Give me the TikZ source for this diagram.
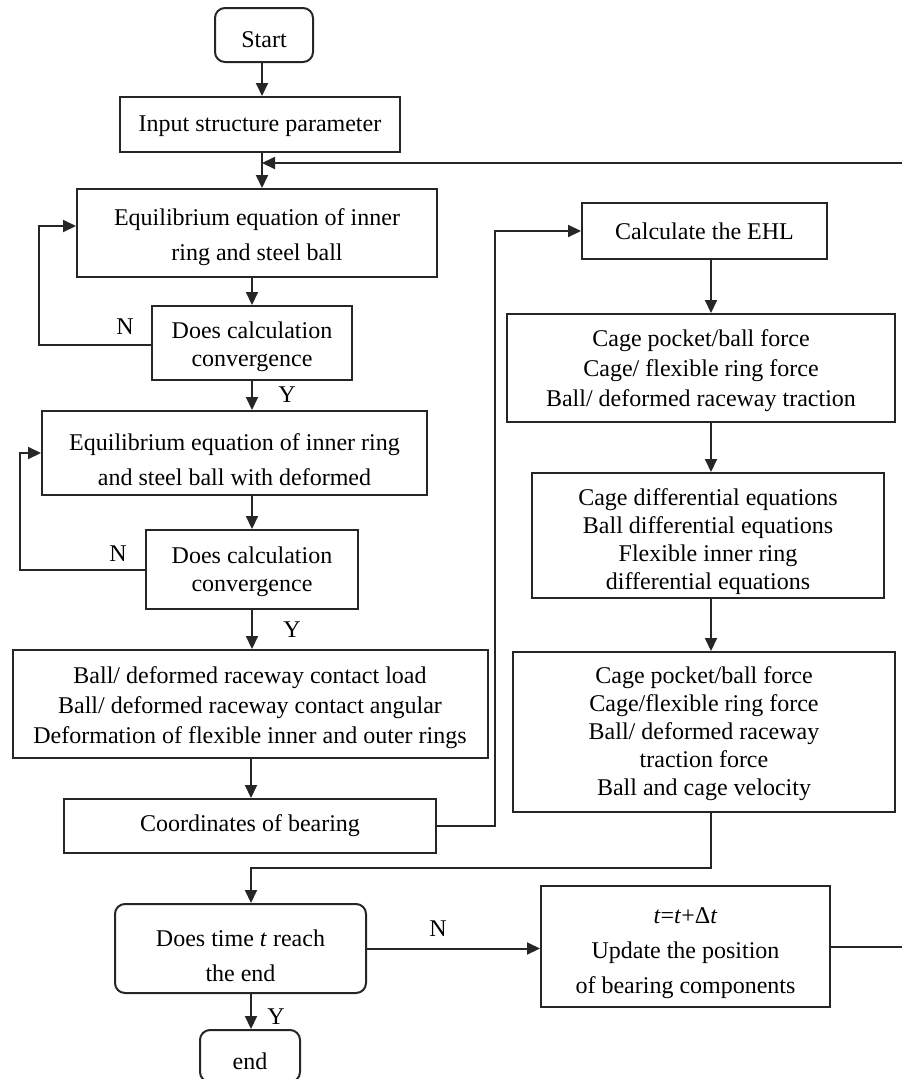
\documentclass[tikz,border=0pt]{standalone}
\usepackage{fontspec}
\setmainfont{Liberation Serif}
\usetikzlibrary{arrows.meta}
\begin{document}
\begin{tikzpicture}[x=1pt,y=-1pt,
  box/.style={draw=black!85, line width=2pt, inner sep=0pt},
  term/.style={box, rounded corners=10pt},
  txt/.style={align=center, inner sep=0pt, font=\fontsize{24}{28}\selectfont},
  wide/.style={font=\fontsize{24}{35}\selectfont},
  mid/.style={font=\fontsize{24}{30}\selectfont},
  arr/.style={draw=black!85, line width=2pt, -{Triangle[length=13pt,width=12pt]}},
  lab/.style={font=\fontsize{24}{26}\selectfont, inner sep=0pt}]
\useasboundingbox (0,0) rectangle (902,1079);
\clip (0,0) rectangle (902,1079);

% column helpers
\coordinate (cT) at (262,0);
\coordinate (cL) at (252,0);
\coordinate (cE) at (251,0);
\coordinate (cR) at (711,0);
\coordinate (fb) at (262,163);
\coordinate (rx) at (912,0);
\coordinate (j) at (711,868);

% left column boxes
\node[term, minimum width=98pt, minimum height=54pt] (start) at (264,35) {};
\node[box, minimum width=280pt, minimum height=55pt] (input) at (260,124.5) {};
\node[box, minimum width=360pt, minimum height=88pt] (eq1) at (257,233) {};
\node[box, minimum width=200pt, minimum height=74pt] (conv1) at (252,343) {};
\node[box, minimum width=385pt, minimum height=84pt] (eq2) at (234.5,453) {};
\node[box, minimum width=212pt, minimum height=79pt] (conv2) at (252,569.5) {};
\node[box, minimum width=475pt, minimum height=108pt] (ball) at (250,704) {};
\node[box, minimum width=372pt, minimum height=54pt] (coord) at (250,826) {};
\node[term, minimum width=251pt, minimum height=89pt] (time) at (240.5,948.5) {};
\node[term, minimum width=100pt, minimum height=52pt] (end) at (250,1056) {};

% right column boxes
\node[box, minimum width=245pt, minimum height=56pt] (ehl) at (704.5,231) {};
\node[box, minimum width=388pt, minimum height=108pt] (cage1) at (701,368) {};
\node[box, minimum width=352pt, minimum height=125pt] (diff) at (708,535.5) {};
\node[box, minimum width=382pt, minimum height=160pt] (cage2) at (704,732) {};
\node[box, minimum width=289pt, minimum height=121pt] (update) at (685.5,946.5) {};

% texts
\node[txt] (startT) at ([yshift=-5pt]start.center) {Start};
\node[txt] (inputT) at ([yshift=-2pt]input.center) {Input structure parameter};
\node[txt, wide] (eq1T) at ([yshift=-4pt]eq1.center) {Equilibrium equation of inner\\ring and steel ball};
\node[txt] (conv1T) at ([yshift=-4pt]conv1.center) {Does calculation\\convergence};
\node[txt, wide] (eq2T) at ([yshift=-7pt]eq2.center) {Equilibrium equation of inner ring\\and steel ball with deformed};
\node[txt] (conv2T) at ([yshift=-2pt]conv2.center) {Does calculation\\convergence};
\node[txt, mid] (ballT) at ([yshift=-4pt]ball.center) {Ball/ deformed raceway contact load\\Ball/ deformed raceway contact angular\\Deformation of flexible inner and outer rings};
\node[txt] (coordT) at (coord.center) {Coordinates of bearing};
\node[txt, wide] (timeT) at ([yshift=-7pt]time.center) {Does time \textit{t} reach\\the end};
\node[txt] (endT) at ([yshift=-5pt]end.center) {end};
\node[txt] (ehlT) at (ehl.center) {Calculate the EHL};
\node[txt, mid] (cage1T) at ([yshift=-3pt]cage1.center) {Cage pocket/ball force\\Cage/ flexible ring force\\Ball/ deformed raceway traction};
\node[txt] (diffT) at ([yshift=-6pt]diff.center) {Cage differential equations\\Ball differential equations\\Flexible inner ring\\differential equations};
\node[txt] (cage2T) at ([yshift=-2pt]cage2.center) {Cage pocket/ball force\\Cage/flexible ring force\\Ball/ deformed raceway\\traction force\\Ball and cage velocity};
\node[txt, wide] (updateT) at ([yshift=-7pt]update.center) {\textit{t}=\textit{t}+Δ\textit{t}\\Update the position\\of bearing components};

% labels
\node[lab] (n1) at (125,327) {N};
\node[lab] (y1) at (287,395) {Y};
\node[lab] (n2) at (118,554) {N};
\node[lab] (y2) at (292,630) {Y};
\node[lab] (n3) at (438,929) {N};
\node[lab] (y3) at (276,1017) {Y};

% connectors
\draw[arr] (start.south -| cT) -- (input.north -| cT);
\draw[arr] (input.south -| cT) -- (eq1.north -| cT);
\draw[arr] (update.east) -| (rx |- fb) -- (fb);
\draw[arr] (eq1.south -| cL) -- (conv1.north -| cL);
\draw[arr] ([yshift=-2pt]conv1.west) -- ++(-112,0) |- ([yshift=7pt]eq1.west);
\draw[arr] (conv1.south -| cL) -- (eq2.north -| cL);
\draw[arr] (eq2.south -| cL) -- (conv2.north -| cL);
\draw[arr] (conv2.west) -- ++(-125,0) |- (eq2.west);
\draw[arr] (conv2.south -| cL) -- (ball.north -| cL);
\draw[arr] (ball.south -| cE) -- (coord.north -| cE);
\draw[arr] (coord.east) -- ++(58,0) |- (ehl.west);
\draw[arr] (ehl.south -| cR) -- (cage1.north -| cR);
\draw[arr] (cage1.south -| cR) -- (diff.north -| cR);
\draw[arr] (diff.south -| cR) -- (cage2.north -| cR);
\draw[arr] (cage2.south -| cR) -- (j) -| (time.north -| cE);
\draw[arr] (time.east) -- (update.west |- time.east);
\draw[arr] (time.south -| cE) -- (end.north -| cE);
\end{tikzpicture}
\end{document}
